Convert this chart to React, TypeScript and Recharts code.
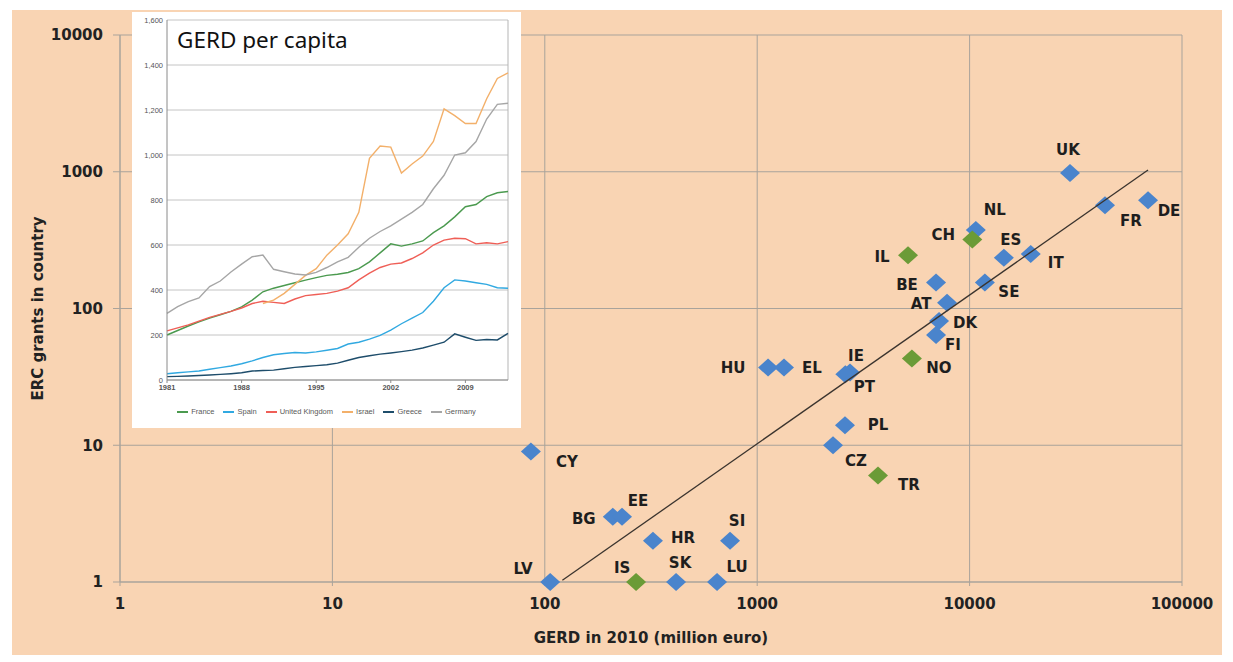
import React from 'react';
import {
  ScatterChart, Scatter, XAxis, YAxis, CartesianGrid,
  LineChart, Line, Legend, ReferenceLine,
} from 'recharts';

// ---------- main scatter data ----------
const MEMBER_CODES = ['UK', 'FR', 'DE', 'NL', 'ES', 'IT', 'BE', 'SE', 'AT', 'DK', 'FI', 'HU', 'EL', 'IE', 'PT', 'PL', 'CZ', 'CY', 'BG', 'EE', 'HR', 'SI', 'LV', 'SK', 'LU'];
const MEMBER_GERD = [29700, 43400, 69200, 10700, 14500, 19400, 6950, 11800, 7830, 7180, 6950, 1125, 1337, 2735, 2600, 2590, 2275, 86, 209, 231, 323, 745, 106, 415, 647];
const MEMBER_ERC = [980, 570, 620, 375, 235, 250, 155, 155, 110, 81, 64, 37, 37, 34, 33, 14, 10, 9, 3, 3, 2, 2, 1, 1, 1];

const ASSOC_CODES = ['CH', 'IL', 'NO', 'TR', 'IS'];
const ASSOC_GERD = [10300, 5130, 5350, 3705, 269];
const ASSOC_ERC = [320, 245, 43, 6, 1];

const TREND_GERD = [121, 69200];
const TREND_ERC = [1.03, 1030];

const X_TICKS = [1, 10, 100, 1000, 10000, 100000];
const Y_TICKS = [1, 10, 100, 1000, 10000];

// ---------- inset data ----------
const YEARS = [1981, 1982, 1983, 1984, 1985, 1986, 1987, 1988, 1989, 1990, 1991, 1992, 1993, 1994, 1995, 1996, 1997, 1998, 1999, 2000, 2001, 2002, 2003, 2004, 2005, 2006, 2007, 2008, 2009, 2010, 2011, 2012, 2013];
const FRANCE = [200, 220, 240, 258, 275, 290, 305, 325, 355, 392, 408, 420, 432, 444, 455, 465, 470, 478, 495, 525, 565, 605, 595, 605, 618, 655, 685, 725, 770, 780, 815, 832, 838];
const SPAIN = [28, 32, 36, 40, 48, 55, 62, 72, 85, 100, 112, 118, 122, 120, 125, 132, 140, 160, 168, 182, 198, 222, 250, 275, 300, 350, 410, 445, 440, 432, 425, 410, 408];
const UNITED_KINGDOM = [218, 232, 245, 262, 278, 292, 305, 320, 340, 350, 345, 340, 360, 375, 380, 385, 395, 410, 445, 475, 500, 515, 520, 540, 565, 600, 622, 630, 628, 605, 610, 605, 615];
const ISRAEL = [null, null, null, null, null, null, null, null, null, 340, 355, 385, 425, 465, 495, 555, 600, 650, 745, 985, 1040, 1035, 920, 960, 995, 1060, 1205, 1175, 1140, 1140, 1250, 1340, 1365];
const GREECE = [15, 16, 18, 20, 22, 25, 28, 32, 40, 42, 44, 50, 56, 60, 64, 68, 75, 88, 100, 108, 115, 120, 126, 133, 142, 155, 168, 205, 190, 176, 180, 178, 207];
const GERMANY = [296, 326, 348, 365, 415, 440, 480, 515, 548, 555, 492, 481, 471, 467, 478, 500, 525, 545, 590, 630, 660, 685, 715, 745, 780, 850, 910, 1000, 1010, 1060, 1160, 1225, 1230];
const INSET_X_TICKS = [1981, 1988, 1995, 2002, 2009];
const INSET_Y_TICKS = [0, 200, 400, 600, 800, 1000, 1200, 1400, 1600];

// ---------- styles ----------
const PEACH = '#f9d4b3';
const BLUE = '#4a84cc';
const GREEN = '#6b9b37';
const GRID = '#a9a39b';
const MAIN_FONT = 'DejaVu Sans';
const INSET_FONT = 'Liberation Sans';

const LABEL_OFFSET: Record<string, [number, number]> = {
  UK: [-2, -23], FR: [26, 16], DE: [21, 11], NL: [19, -20], CH: [-29, -4], ES: [7, -18],
  IT: [25, 9], IL: [-26, 2], BE: [-29, 3], SE: [24, 10], AT: [-26, 1], DK: [26, 2],
  FI: [17, 10], NO: [27, 9], HU: [-35, 0], EL: [28, 0], IE: [6, -17], PT: [19, 13],
  PL: [33, 0], CZ: [23, 16], TR: [31, 9], CY: [36, 10], BG: [-29, 2], EE: [16, -16],
  HR: [30, -3], SI: [7, -20], LV: [-27, -13], IS: [-14, -14], SK: [4, -19], LU: [20, -15],
};

const memberData = MEMBER_CODES.map((code, i) => ({ code, x: MEMBER_GERD[i], y: MEMBER_ERC[i] }));
const assocData = ASSOC_CODES.map((code, i) => ({ code, x: ASSOC_GERD[i], y: ASSOC_ERC[i] }));
const trendData = TREND_GERD.map((x, i) => ({ x, y: TREND_ERC[i] }));

const insetData = YEARS.map((year, i) => ({
  year,
  France: FRANCE[i],
  Spain: SPAIN[i],
  'United Kingdom': UNITED_KINGDOM[i],
  Israel: ISRAEL[i],
  Greece: GREECE[i],
  Germany: GERMANY[i],
}));

const INSET_SERIES: { key: string; color: string }[] = [
  { key: 'France', color: '#4b9a4f' },
  { key: 'Spain', color: '#31a9e1' },
  { key: 'United Kingdom', color: '#ef5f57' },
  { key: 'Israel', color: '#f3b06a' },
  { key: 'Greece', color: '#1e4d6b' },
  { key: 'Germany', color: '#a6a6a6' },
];

const makeDiamond = (fill: string) => (props: any) => {
  const { cx, cy, payload } = props;
  if (cx == null || cy == null) return <g />;
  const off = LABEL_OFFSET[payload.code] || [0, 0];
  return (
    <g>
      <polygon points={`${cx},${cy - 9} ${cx + 10},${cy} ${cx},${cy + 9} ${cx - 10},${cy}`} fill={fill} />
      <text
        x={cx + off[0]}
        y={cy + off[1]}
        textAnchor="middle"
        dominantBaseline="central"
        fontFamily={MAIN_FONT}
        fontWeight="bold"
        fontSize={15}
        fill="#1e1e1e"
      >
        {payload.code}
      </text>
    </g>
  );
};

const InsetLegend = () => (
  <div style={{ display: 'flex', justifyContent: 'center', alignItems: 'center', gap: 9, fontFamily: INSET_FONT, fontSize: 7.5, color: '#595959' }}>
    {INSET_SERIES.map((s) => (
      <div key={s.key} style={{ display: 'flex', alignItems: 'center' }}>
        <svg width={11} height={4} style={{ marginRight: 3, display: 'block' }}>
          <line x1={0} y1={2} x2={11} y2={2} stroke={s.color} strokeWidth={2} />
        </svg>
        <span>{s.key}</span>
      </div>
    ))}
  </div>
);

export default function App() {
  const tickStyle = { fontFamily: MAIN_FONT, fontWeight: 'bold', fontSize: 15, fill: '#222' } as any;
  const insetTick = { fontFamily: INSET_FONT, fontSize: 7.5, fill: '#555' } as any;
  return (
    <div style={{ position: 'relative', width: 1217, height: 647 }}>
      <div style={{ position: 'absolute', left: 4, top: 2, width: 1210, height: 645, background: PEACH }} />
      <div style={{ position: 'absolute', left: 0, top: 0 }}>
        <ScatterChart width={1217} height={647} margin={{ top: 27, right: 43, bottom: 33, left: 52 }}>
          <CartesianGrid stroke={GRID} strokeWidth={1} />
          <XAxis
            type="number"
            dataKey="x"
            scale="log"
            domain={[1, 100000]}
            ticks={X_TICKS}
            height={40}
            stroke={GRID}
            tickSize={4}
            tickMargin={12}
            tick={tickStyle}
            label={{
              content: (p: any) => {
                const vb = p.viewBox || { x: 112, width: 1062 };
                return (
                  <text x={vb.x + vb.width / 2} y={630} textAnchor="middle" dominantBaseline="central" fontFamily={MAIN_FONT} fontWeight="bold" fontSize={15} fill="#222">
                    GERD in 2010 (million euro)
                  </text>
                );
              },
            }}
          />
          <YAxis
            type="number"
            dataKey="y"
            scale="log"
            domain={[1, 10000]}
            ticks={Y_TICKS}
            width={60}
            stroke={GRID}
            tickSize={7}
            tickMargin={10}
            tick={tickStyle}
            label={{
              content: (p: any) => {
                const vb = p.viewBox || { y: 27, height: 547 };
                const cy = vb.y + vb.height / 2;
                return (
                  <text x={30} y={cy} transform={`rotate(-90 30 ${cy})`} textAnchor="middle" dominantBaseline="central" fontFamily={MAIN_FONT} fontWeight="bold" fontSize={15} fill="#222">
                    ERC grants in country
                  </text>
                );
              },
            }}
          />
          <Scatter data={memberData} fill={BLUE} shape={makeDiamond(BLUE)} isAnimationActive={false} />
          <Scatter data={assocData} fill={GREEN} shape={makeDiamond(GREEN)} isAnimationActive={false} />
          <Scatter data={trendData} line={{ stroke: '#3b342e', strokeWidth: 1.3 }} shape={() => <g />} isAnimationActive={false} />
        </ScatterChart>
      </div>
      <div style={{ position: 'absolute', left: 124, top: 4, width: 389, height: 416, background: '#fff' }}>
        <LineChart width={389} height={416} data={insetData} margin={{ top: 8, right: 13, bottom: 32, left: 0 }}>
          <CartesianGrid vertical={false} stroke="#c4c4c4" />
          <XAxis
            type="number"
            dataKey="year"
            domain={[1981, 2013]}
            ticks={INSET_X_TICKS}
            height={16}
            stroke="#8a8a8a"
            tickSize={3}
            tickMargin={2}
            tick={{ ...insetTick, fontWeight: 'bold' }}
          />
          <YAxis
            type="number"
            domain={[0, 1600]}
            ticks={INSET_Y_TICKS}
            width={35}
            stroke="#8a8a8a"
            tickLine={false}
            tickSize={0}
            tickMargin={4}
            tick={insetTick}
            tickFormatter={(v: number) => v.toLocaleString('en-US')}
          />
          <ReferenceLine x={2013} stroke="#b5b5b5" />
          {INSET_SERIES.map((s) => (
            <Line key={s.key} type="linear" dataKey={s.key} stroke={s.color} strokeWidth={1.4} dot={false} isAnimationActive={false} />
          ))}
          <Legend
            verticalAlign="middle"
            align="center"
            layout="horizontal"
            wrapperStyle={{ top: 395, left: 0, width: 389 }}
            content={() => <InsetLegend />}
          />
        </LineChart>
        <div style={{ position: 'absolute', left: 45, top: 14, fontFamily: 'Noto Sans', fontSize: 22.5, lineHeight: '28px', color: '#111' }}>
          GERD per capita
        </div>
      </div>
    </div>
  );
}
